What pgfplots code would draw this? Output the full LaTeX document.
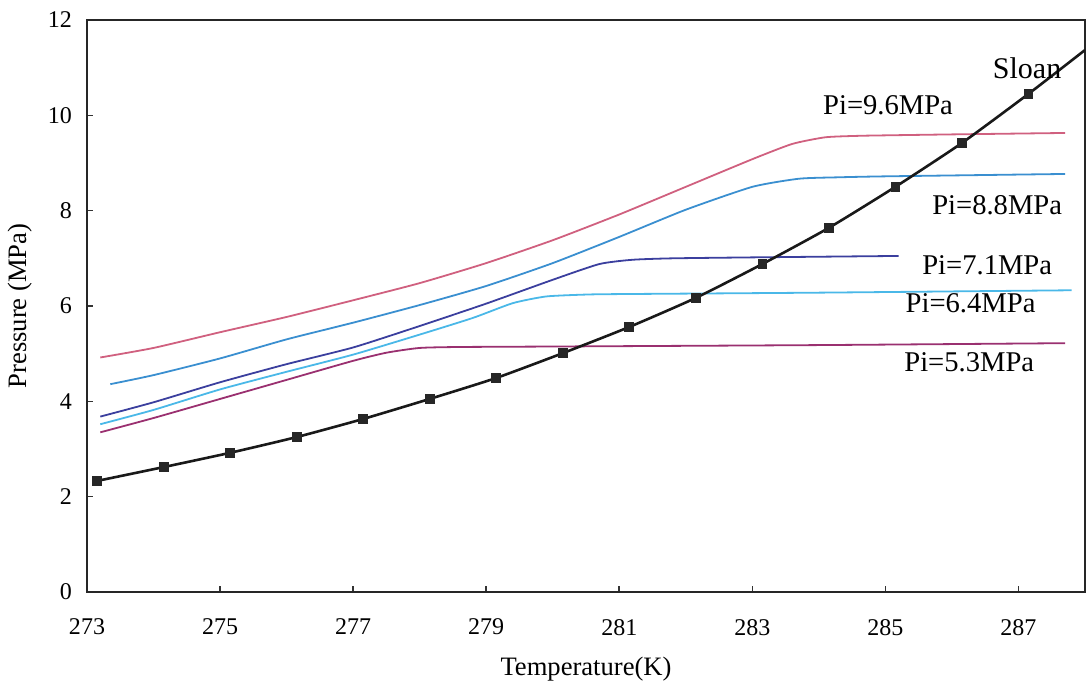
\documentclass[border=0pt]{standalone}
\usepackage{pgfplots}
\pgfplotsset{compat=1.18}
\usepackage{fontspec}
\setmainfont{Liberation Serif}
\definecolor{c96}{HTML}{D0607F}
\definecolor{c88}{HTML}{3A8FD0}
\definecolor{c71}{HTML}{3B3F9E}
\definecolor{c64}{HTML}{4AB8E8}
\definecolor{c53}{HTML}{9A3070}
\begin{document}
\begin{tikzpicture}
\begin{axis}[
  name=ax,
  scale only axis,
  width=499pt, height=286pt,
  xmin=273, xmax=288, ymin=0, ymax=12,
  xtick={273,275,277,279,281,283,285,287},
  ytick={0,2,4,6,8,10,12},
  xtick pos=bottom, ytick pos=left,
  tick align=inside,
  major tick length=3pt,
  axis line style={line width=1.3pt, black!85},
  every tick/.style={black!80, line width=0.8pt},
  ticklabel style={font=\fontsize{12}{12}\selectfont},
  /pgf/number format/assume math mode=true,
  /pgf/number format/1000 sep={},
  xticklabel style={yshift=-10pt},
  yticklabel style={xshift=-4pt},
  xlabel={Temperature(K)},
  ylabel={Pressure (MPa)},
  label style={font=\fontsize{13.3}{14}\selectfont},
  xlabel style={yshift=-4pt},
  ylabel style={yshift=1pt},
  clip=true,
  every axis plot/.append style={smooth, tension=0.35},
]
\addplot[c96, line width=0.9pt] coordinates {(273.2,4.92) (274,5.12) (275,5.45) (276,5.77) (277,6.12) (278,6.48) (279,6.9) (280,7.38) (281,7.92) (282,8.5) (283,9.08) (283.6,9.4) (284.1,9.54) (284.6,9.57) (285,9.58) (286,9.6) (287.7,9.63)};
\addplot[c88, line width=0.9pt] coordinates {(273.35,4.36) (274,4.55) (275,4.9) (276,5.3) (277,5.65) (278,6.02) (279,6.42) (280,6.9) (281,7.45) (282,8.02) (283,8.5) (283.7,8.67) (284.3,8.7) (285,8.72) (287.7,8.77)};
\addplot[c71, line width=0.9pt] coordinates {(273.2,3.68) (274,3.98) (275,4.4) (276,4.78) (277,5.13) (278,5.58) (279,6.05) (280,6.55) (280.7,6.88) (281.2,6.97) (281.8,7.0) (283,7.02) (285.2,7.05)};
\addplot[c64, line width=0.9pt] coordinates {(273.2,3.52) (274,3.82) (275,4.25) (276,4.62) (277,4.98) (278,5.4) (278.8,5.75) (279.4,6.06) (279.9,6.2) (280.5,6.24) (281,6.25) (284,6.28) (287.8,6.33)};
\addplot[c53, line width=0.9pt] coordinates {(273.2,3.35) (274,3.65) (275,4.05) (276,4.45) (277,4.85) (277.5,5.02) (278,5.12) (278.6,5.14) (280,5.15) (284,5.18) (287.7,5.22)};
\addplot[black!90, line width=1.3pt] coordinates {(273.15,2.33) (274.15,2.62) (275.15,2.92) (276.15,3.25) (277.15,3.63) (278.15,4.05) (279.15,4.49) (280.15,5.01) (281.15,5.56) (282.15,6.17) (283.15,6.88) (284.15,7.64) (285.15,8.50) (286.15,9.42) (287.15,10.45) (288,11.37)};
\addplot[only marks, mark=square*, mark size=2.2pt, mark options={fill=black!85, draw=black!85}] coordinates {(273.15,2.33) (274.15,2.62) (275.15,2.92) (276.15,3.25) (277.15,3.63) (278.15,4.05) (279.15,4.49) (280.15,5.01) (281.15,5.56) (282.15,6.17) (283.15,6.88) (284.15,7.64) (285.15,8.50) (286.15,9.42) (287.15,10.45)};
\node[font=\fontsize{15}{16}\selectfont] at (axis cs:287.13,10.99) {Sloan};
\node[font=\fontsize{14.3}{15}\selectfont] at (axis cs:285.04,10.22) {Pi=9.6MPa};
\node[font=\fontsize{14.3}{15}\selectfont] at (axis cs:286.68,8.12) {Pi=8.8MPa};
\node[font=\fontsize{14.3}{15}\selectfont] at (axis cs:286.53,6.86) {Pi=7.1MPa};
\node[font=\fontsize{14.3}{15}\selectfont] at (axis cs:286.28,6.06) {Pi=6.4MPa};
\node[font=\fontsize{14.3}{15}\selectfont] at (axis cs:286.26,4.82) {Pi=5.3MPa};
\end{axis}
\pgfresetboundingbox
\path ([xshift=-43.5pt,yshift=-46.5pt]ax.south west) rectangle ([xshift=0.5pt,yshift=10pt]ax.north east);
\end{tikzpicture}
\end{document}
